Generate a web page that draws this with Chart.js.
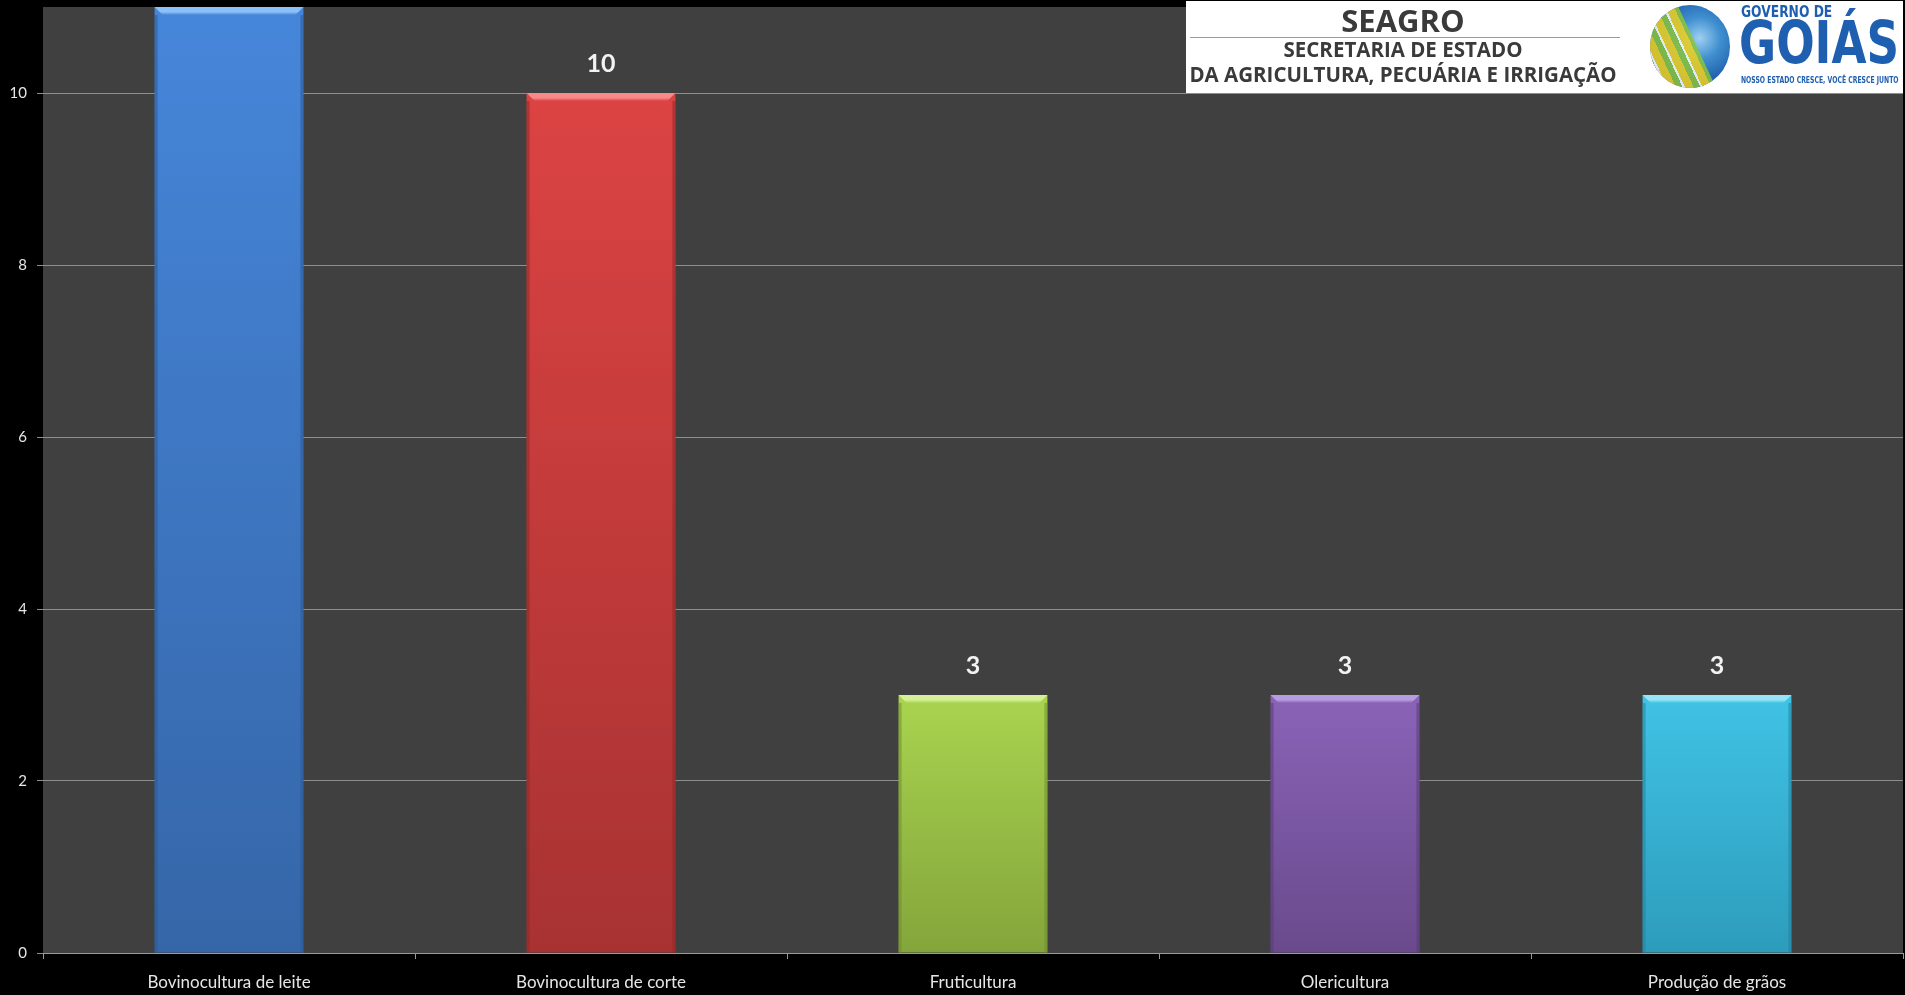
<!DOCTYPE html>
<html>
<head>
<meta charset="utf-8">
<script src="https://cdn.jsdelivr.net/npm/chart.js@4.4.1/dist/chart.umd.min.js"></script>
<style>
  html, body { margin: 0; padding: 0; background: #000; width: 1905px; height: 995px; overflow: hidden; }
  #wrap { position: relative; width: 1905px; height: 995px; }
  canvas { position: absolute; left: 0; top: 0; }
  #logo { position: absolute; left: 1186px; top: 1px; width: 717px; height: 92px; background: #fff; font-family: "Open Sans", sans-serif; color: #3a3a3a; }
  #logo .t { position: absolute; left: 0; width: 434px; text-align: center; font-weight: 700; white-space: nowrap; line-height: 1; }
  #logo .rule { position: absolute; left: 4px; width: 430px; top: 36px; height: 1px; background: #9a9a9a; }
  #globe { position: absolute; left: 464px; top: 4px; width: 80px; height: 83px; border-radius: 50%;
    background: radial-gradient(circle at 62% 40%, #9fd0f0 0%, #3f8fd0 30%, #1d5aa5 65%, #143f80 100%); overflow: hidden; }
  #globe .s1 { position: absolute; left: -10px; top: 10px; width: 60px; height: 90px; transform: rotate(-25deg);
    background: repeating-linear-gradient(90deg, #f2d21c 0 8px, #8ac43c 8px 14px, #ffffff 14px 16px); opacity: .85; }
</style>
</head>
<body>
<div id="wrap">
  <canvas id="c" width="1905" height="995"></canvas>
  <div id="logo">
    <div class="t" style="top:4px;font-size:31px;">SEAGRO</div>
    <div class="rule"></div>
    <div class="t" style="top:38px;font-size:20.5px;">SECRETARIA DE ESTADO</div>
    <div class="t" style="top:63px;font-size:20.5px;">DA AGRICULTURA, PECUÁRIA E IRRIGAÇÃO</div>
    <div id="globe"><div class="s1"></div></div>
    <div style="position:absolute;left:555px;top:2px;font-family:'DejaVu Sans',sans-serif;font-weight:700;font-size:15px;color:#1f5fb0;transform:scaleX(0.82);transform-origin:0 0;white-space:nowrap;">GOVERNO DE</div>
    <div style="position:absolute;left:553px;top:8px;font-family:'DejaVu Sans',sans-serif;font-weight:700;font-size:58px;color:#1f5fb0;transform:scaleX(0.78);transform-origin:0 0;white-space:nowrap;">GOIÁS</div>
    <div style="position:absolute;left:555px;top:74px;font-family:'DejaVu Sans',sans-serif;font-weight:700;font-size:9px;color:#1f5fb0;transform:scaleX(0.68);transform-origin:0 0;white-space:nowrap;">NOSSO ESTADO CRESCE, VOCÊ CRESCE JUNTO</div>
  </div>
</div>
<script>
const categories = ["Bovinocultura de leite", "Bovinocultura de corte", "Fruticultura", "Olericultura", "Produção de grãos"];
const values = [11, 10, 3, 3, 3];
const yTicks = [0, 2, 4, 6, 8, 10];
const topColors = ["#4686da", "#dc4343", "#a9d44f", "#8a63b8", "#40c3e5"];
const bottomColors = ["#3566a8", "#a83232", "#84a53b", "#6a4a8c", "#2d9cbc"];
const bevelColors = ["#8ec0f8", "#f68a8a", "#d6f09a", "#b89ce0", "#98e4f6"];
const edgeColors = ["#2c5a96", "#8f2828", "#6f8c30", "#573c78", "#23829e"];

const bgPlugin = {
  id: 'plotBg',
  beforeDraw(chart) {
    const { ctx, chartArea: a } = chart;
    ctx.save();
    ctx.fillStyle = '#000';
    ctx.fillRect(0, 0, chart.width, chart.height);
    ctx.fillStyle = '#404040';
    ctx.fillRect(a.left, a.top, a.right - a.left, a.bottom - a.top);
    ctx.restore();
  }
};

const bevelPlugin = {
  id: 'bevel',
  afterDatasetsDraw(chart) {
    const { ctx } = chart;
    const meta = chart.getDatasetMeta(0);
    ctx.save();
    meta.data.forEach((bar, i) => {
      const l = bar.x - bar.width / 2, r = bar.x + bar.width / 2, t = bar.y, b = bar.base;
      const d = 8;
      ctx.fillStyle = edgeColors[i];
      ctx.globalAlpha = 0.55;
      ctx.fillRect(l, t + d, 3, b - t - d);
      ctx.fillRect(r - 3, t + d, 3, b - t - d);
      ctx.globalAlpha = 1;
      const g = ctx.createLinearGradient(0, t, 0, t + d);
      g.addColorStop(0, bevelColors[i]);
      g.addColorStop(0.6, bevelColors[i]);
      g.addColorStop(1, topColors[i]);
      ctx.fillStyle = g;
      ctx.beginPath();
      ctx.moveTo(l, t);
      ctx.lineTo(r, t);
      ctx.lineTo(r - d, t + d);
      ctx.lineTo(l + d, t + d);
      ctx.closePath();
      ctx.fill();
    });
    ctx.restore();
  }
};

const labelPlugin = {
  id: 'valueLabels',
  afterDatasetsDraw(chart) {
    const { ctx } = chart;
    const meta = chart.getDatasetMeta(0);
    ctx.save();
    ctx.font = 'bold 25px Lato, "Open Sans", sans-serif';
    ctx.fillStyle = '#f2f2f2';
    ctx.textAlign = 'center';
    ctx.textBaseline = 'middle';
    meta.data.forEach((bar, i) => {
      ctx.fillText(String(values[i]), bar.x, bar.y - 29);
    });
    ctx.restore();
  }
};

new Chart(document.getElementById('c'), {
  type: 'bar',
  data: {
    labels: categories,
    datasets: [{
      data: values,
      backgroundColor(context) {
        const chart = context.chart;
        const a = chart.chartArea;
        if (!a || context.parsed === undefined) return topColors[context.dataIndex];
        const ys = chart.scales.y;
        const y0 = ys.getPixelForValue(context.parsed.y);
        const y1 = ys.getPixelForValue(0);
        const g = chart.ctx.createLinearGradient(0, y0, 0, y1);
        g.addColorStop(0, topColors[context.dataIndex]);
        g.addColorStop(1, bottomColors[context.dataIndex]);
        return g;
      },
      borderWidth: 0,
      barPercentage: 0.4,
      categoryPercentage: 1.0
    }]
  },
  options: {
    responsive: false,
    animation: false,
    devicePixelRatio: 1,
    layout: { padding: { top: 7, right: 2, left: 0, bottom: 0 } },
    plugins: { legend: { display: false }, tooltip: { enabled: false } },
    scales: {
      x: {
        offset: true,
        grid: { display: true, drawOnChartArea: false, drawTicks: true, tickLength: 6, color: '#9a9a9a', offset: true },
        border: { display: true, color: '#9a9a9a', width: 1 },
        ticks: { color: '#e6e6e6', font: { family: 'Lato, "Open Sans", sans-serif', size: 17 }, padding: 13, maxRotation: 0 },
        afterFit(s) { s.height = 42; s.paddingLeft = 0; s.paddingRight = 0; }
      },
      y: {
        min: 0, max: 11,
        afterBuildTicks(s) { s.ticks = yTicks.map(v => ({ value: v })); },
        grid: { color: '#8e8e8e', lineWidth: 1, drawTicks: true, tickLength: 6 },
        border: { display: false },
        ticks: { color: '#e6e6e6', font: { family: 'Lato, "Open Sans", sans-serif', size: 15, lineHeight: 1.0 }, padding: 10 },
        afterFit(s) { s.width = 43; s.paddingTop = 0; s.paddingBottom = 0; }
      }
    }
  },
  plugins: [bgPlugin, bevelPlugin, labelPlugin]
});
</script>
</body>
</html>
